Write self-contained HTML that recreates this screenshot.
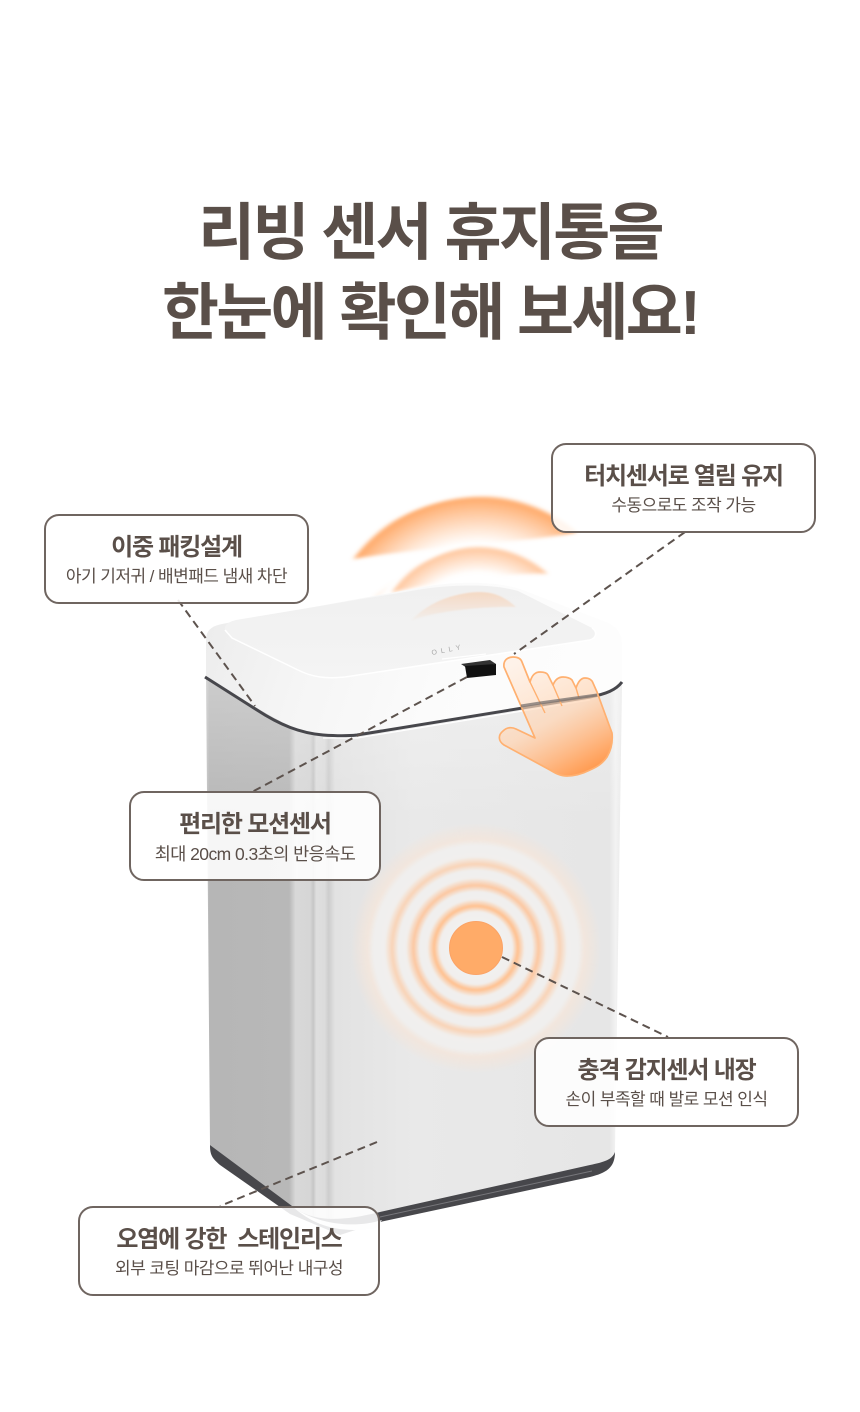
<!DOCTYPE html>
<html lang="ko">
<head>
<meta charset="utf-8">
<title>리빙 센서 휴지통</title>
<style>
html,body{margin:0;padding:0;background:#fff}
#p{position:relative;width:860px;height:1412px;overflow:hidden;background:#fff;font-family:"Liberation Sans","Noto Sans CJK KR",sans-serif;color:#5a4f49}
svg{position:absolute;left:0;top:0}
.h{position:absolute;left:0;width:860px;text-align:center;font-size:62px;font-weight:700;line-height:80px;letter-spacing:-2.7px;white-space:nowrap}
.b{position:absolute;box-sizing:border-box;border:2px solid #6f6560;border-radius:15px;background:rgba(255,255,255,.88);text-align:center;white-space:nowrap}
.b b{position:absolute;left:0;right:0;top:15px;font-size:24px;line-height:34px;font-weight:700;letter-spacing:-1.2px}
.b span{position:absolute;left:0;right:0;top:49px;font-size:17px;line-height:24px;font-weight:400;letter-spacing:-.55px}
</style>
</head>
<body>
<div id="p">
<div class="h" style="top:194px">리빙 센서 휴지통을</div>
<div class="h" style="top:274px">한눈에 확인해 보세요!</div>

<svg width="860" height="1412" viewBox="0 0 860 1412">
<defs>
<linearGradient id="body" x1="206" x2="622" y1="0" y2="0" gradientUnits="userSpaceOnUse">
<stop offset="0" stop-color="#c8c8c8"/><stop offset=".008" stop-color="#b6b6b6"/>
<stop offset=".2" stop-color="#b8b8b8"/><stop offset=".215" stop-color="#d8d8d8"/>
<stop offset=".25" stop-color="#d6d6d6"/><stop offset=".258" stop-color="#c6c6c6"/>
<stop offset=".265" stop-color="#dedede"/><stop offset=".285" stop-color="#dcdcdc"/>
<stop offset=".295" stop-color="#cdcdcd"/><stop offset=".31" stop-color="#e2e2e2"/>
<stop offset=".5" stop-color="#e9e9e9"/><stop offset=".97" stop-color="#e6e6e6"/>
<stop offset=".985" stop-color="#f2f2f2"/><stop offset="1" stop-color="#e9e9e9"/>
</linearGradient>
<linearGradient id="fade" x1="0" x2="0" y1="680" y2="820" gradientUnits="userSpaceOnUse">
<stop offset="0" stop-color="#fff" stop-opacity=".3"/><stop offset="1" stop-color="#fff" stop-opacity="0"/>
</linearGradient>
<linearGradient id="lid" x1="206" y1="600" x2="560" y2="720" gradientUnits="userSpaceOnUse">
<stop offset="0" stop-color="#ececec"/><stop offset=".3" stop-color="#f5f5f5"/><stop offset=".65" stop-color="#fbfbfb"/><stop offset="1" stop-color="#fdfdfd"/>
</linearGradient>
<linearGradient id="lt" x1="0" x2="0" y1="582" y2="680" gradientUnits="userSpaceOnUse">
<stop offset="0" stop-color="#f0f0f0"/><stop offset="1" stop-color="#f4f4f4"/>
</linearGradient>
<radialGradient id="wa" cx="478" cy="652" r="165" gradientUnits="userSpaceOnUse">
<stop offset=".48" stop-color="#ffa766" stop-opacity="0"/>
<stop offset=".625" stop-color="#ffa766" stop-opacity=".62"/>
<stop offset=".645" stop-color="#ffa766" stop-opacity="0"/>
<stop offset=".66" stop-color="#ffa766" stop-opacity="0"/>
<stop offset=".93" stop-color="#ff9d52" stop-opacity=".85"/>
<stop offset=".955" stop-color="#ff9d52" stop-opacity="0"/>
</radialGradient>
<linearGradient id="wb" x1="0" x2="0" y1="592" y2="625" gradientUnits="userSpaceOnUse">
<stop offset="0" stop-color="#ffa766" stop-opacity=".32"/>
<stop offset="1" stop-color="#ffa766" stop-opacity="0"/>
</linearGradient>
<linearGradient id="hand" x1="520" y1="660" x2="585" y2="780" gradientUnits="userSpaceOnUse">
<stop offset="0" stop-color="#ffe8d6" stop-opacity=".5"/><stop offset=".5" stop-color="#ffd4b2" stop-opacity=".72"/><stop offset=".85" stop-color="#ffac6e"/><stop offset="1" stop-color="#ff9445"/>
</linearGradient>
<radialGradient id="rings" cx="476" cy="948" r="125" gradientUnits="userSpaceOnUse">
<stop offset="0" stop-color="#f0f0f0"/><stop offset=".23" stop-color="#f1f0ef"/>
<stop offset=".29" stop-color="#f1efed"/><stop offset=".335" stop-color="#ffc08e"/>
<stop offset=".39" stop-color="#f1efed"/><stop offset=".45" stop-color="#f0efee"/>
<stop offset=".50" stop-color="#fcc7a0"/><stop offset=".56" stop-color="#f1efed"/>
<stop offset=".62" stop-color="#f0efee"/><stop offset=".67" stop-color="#f9d3b6"/>
<stop offset=".73" stop-color="#f1efed"/><stop offset=".82" stop-color="#f0efee"/>
<stop offset=".87" stop-color="#f3e6dc" stop-opacity=".9"/><stop offset="1" stop-color="#f4e4d8" stop-opacity="0"/>
</radialGradient>
<clipPath id="bc"><path d="M206 675 L210 1145 L292 1207 C310 1222 340 1232 370 1222 L595 1170 C608 1166 615 1162 615 1150 L622 685 Z"/></clipPath>
<clipPath id="wc1"><path d="M338 562 C385 515 440 495 490 496 C525 497 560 510 582 531 C540 542 400 548 338 562 Z M372 598 C410 565 450 546 480 546 C510 546 535 558 553 574 C520 572 440 578 372 598 Z"/></clipPath>
<clipPath id="wc3"><path d="M412 620 C430 600 460 592 480 592 C495 592 506 598 516 607 C490 606 440 610 412 620 Z"/></clipPath>
<filter id="s1" x="-10%" y="-10%" width="120%" height="120%"><feGaussianBlur stdDeviation="1.8"/></filter>
<filter id="s2" x="-10%" y="-10%" width="120%" height="120%"><feGaussianBlur stdDeviation=".8"/></filter>
</defs>

<!-- waves behind the lid -->
<g filter="url(#s1)"><circle cx="478" cy="652" r="165" fill="url(#wa)" clip-path="url(#wc1)"/></g>

<!-- body -->
<path d="M206 675 L210 1145 L292 1207 C310 1222 340 1232 370 1222 L595 1170 C608 1166 615 1162 615 1150 L622 685 Z" fill="url(#body)"/>
<rect x="200" y="680" width="430" height="160" fill="url(#fade)" clip-path="url(#bc)"/>
<!-- base -->
<path d="M210 1145 C210 1155 212 1158 220 1165 L290 1214 L340 1235 L380 1222 L590 1177 C606 1173 615 1168 615 1152 C612 1160 604 1162 590 1165 L380 1212 C340 1222 312 1222 292 1206 Z" fill="#47474b"/>
<path d="M380 1217 L592 1171" stroke="#77777b" stroke-width="1"/>
<path d="M292 1206 C312 1222 350 1230 382 1220 L376 1228 C340 1234 314 1226 292 1206 Z" fill="#f2f2f2"/>

<!-- lid -->
<path d="M206 640 C206 630 212 626 222 624 L423 587 C450 582 490 580 520 589 L606 622 C618 627 622 634 622 645 L622 682 C616 692 604 695 590 697 L357 736 C345 738 335 738 323 736 C300 732 280 722 257 708 L206 677 Z" fill="url(#lid)"/>
<path d="M225 630 C224 625 228 622 236 620 L423 589 C450 585 490 583 518 591 L592 628 C598 632 596 638 590 640 L345 677 C325 679 312 677 298 670 L232 638 Z" fill="url(#lt)"/>
<path d="M225 630 L232 638 L298 670 C312 677 325 679 345 677 L590 640 C596 638 598 632 592 628" fill="none" stroke="#fff" stroke-width="1.5"/>
<path d="M205 677 L257 710 C280 725 300 733 323 735 C337 736 348 736 357 735 L590 697 C606 694 616 690 622 682" fill="none" stroke="#47474c" stroke-width="3"/>
<path d="M323 738 L357 738 L590 700" fill="none" stroke="#fff" stroke-width="1.2"/>

<!-- inner wave on lid -->
<g filter="url(#s2)"><rect x="405" y="585" width="120" height="40" fill="url(#wb)" clip-path="url(#wc3)"/></g>

<!-- logo + sensor -->
<text x="0" y="0" transform="translate(432,655) rotate(-11)" font-family="'Liberation Sans',sans-serif" font-size="7" letter-spacing="4" fill="#a5a5a5">OLLY</text>
<path d="M442 659 L486 654" stroke="#fff" stroke-width="1.2"/>
<path d="M461 664 L490 660 L496 664 L467 668 Z" fill="#333"/>
<path d="M465 666 L496 664 L496 675 L467 678 Z" fill="#111"/>

<!-- rings -->
<g filter="url(#s2)"><circle cx="476" cy="948" r="125" fill="url(#rings)"/></g>
<circle cx="476" cy="948" r="26.5" fill="#ffab68" stroke="#fba366" stroke-width="1"/>

<!-- hand -->
<path d="M504 667 C503 660 508 657 513 657 C518 657 521 659 522 662 L530 682 C532 675 535 672 540 672 C544 672 547 673 548 675 L553 685 C555 680 558 677 563 677 C567 677 570 678 572 680 L576 688 C578 682 581 678 585 678 C589 678 592 680 593 683 L597 692 L612 733 C613 742 611 750 607 757 C602 764 597 767 590 770 C582 774 575 776 567 776 C560 776 555 773 550 770 L504 745 C498 741 498 735 503 731 C507 727 512 727 516 729 L535 738 Z" fill="url(#hand)" stroke="#ffb070" stroke-width="1.7" stroke-linejoin="round"/>
<path d="M530 682 L545 713 M553 685 L562 706 M576 688 L579 698" fill="none" stroke="#ffb070" stroke-width="1.4"/>
<path d="M521 706 L540 703 L597 695" fill="none" stroke="#6f6a68" stroke-width="3" opacity=".7"/>

<!-- connectors -->
<g fill="none" stroke="#5d534e" stroke-width="2" stroke-dasharray="8 5">
<path d="M178 600 L255 706"/>
<path d="M685 532 L514 654"/>
<path d="M467 677 L252 792"/>
<path d="M502 957 L668 1037"/>
<path d="M377 1142 L220 1206"/>
</g>
</svg>

<div class="b" style="left:44px;top:514px;width:265px;height:90px"><b>이중 패킹설계</b><span>아기 기저귀 / 배변패드 냄새 차단</span></div>
<div class="b" style="left:551px;top:443px;width:265px;height:90px"><b>터치센서로 열림 유지</b><span>수동으로도 조작 가능</span></div>
<div class="b" style="left:129px;top:791px;width:252px;height:90px"><b>편리한 모션센서</b><span style="font-size:17.5px">최대 20cm 0.3초의 반응속도</span></div>
<div class="b" style="left:534px;top:1037px;width:265px;height:90px"><b>충격 감지센서 내장</b><span>손이 부족할 때 발로 모션 인식</span></div>
<div class="b" style="left:78px;top:1206px;width:302px;height:90px"><b>오염에 강한&nbsp; 스테인리스</b><span>외부 코팅 마감으로 뛰어난 내구성</span></div>
</div>
</body>
</html>
